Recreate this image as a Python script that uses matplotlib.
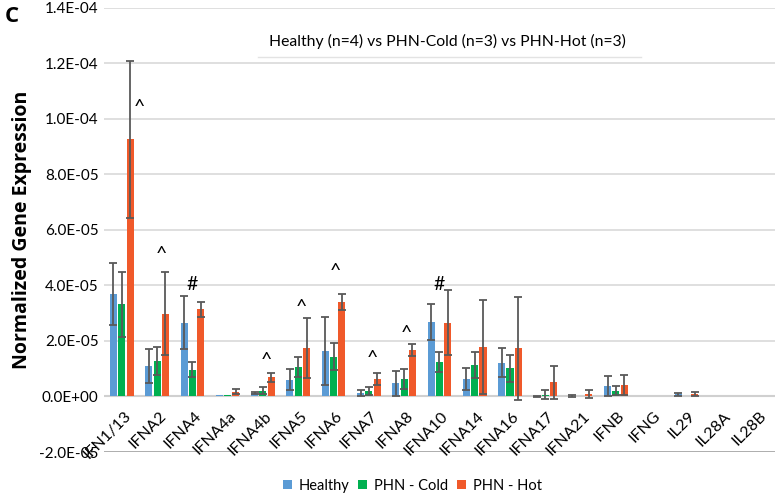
import numpy as np
import matplotlib.pyplot as plt

plt.rcParams['font.family'] = ['Lato', 'DejaVu Sans']

genes = ['IFN1/13', 'IFNA2', 'IFNA4', 'IFNA4a', 'IFNA4b', 'IFNA5', 'IFNA6', 'IFNA7',
         'IFNA8', 'IFNA10', 'IFNA14', 'IFNA16', 'IFNA17', 'IFNA21', 'IFNB', 'IFNG',
         'IL29', 'IL28A', 'IL28B']

# valores en unidades de 1e-5
healthy = [3.68, 1.10, 2.66, 0.06, 0.12, 0.61, 1.65, 0.12, 0.47, 2.69, 0.63, 1.22,
           0.01, 0.02, 0.38, 0.0, 0.08, 0.0, 0.0]
healthy_err = [1.12, 0.61, 0.96, 0.0, 0.03, 0.39, 1.23, 0.10, 0.46, 0.65, 0.40, 0.51,
               0.02, 0.05, 0.35, 0.0, 0.05, 0.0, 0.0]
cold = [3.32, 1.29, 0.96, 0.06, 0.21, 1.05, 1.44, 0.19, 0.63, 1.25, 1.14, 1.01,
        0.07, 0.0, 0.21, 0.0, 0.03, 0.0, 0.0]
cold_err = [1.17, 0.50, 0.27, 0.0, 0.12, 0.36, 0.50, 0.14, 0.37, 0.37, 0.48, 0.47,
            0.17, 0.0, 0.17, 0.0, 0.0, 0.0, 0.0]
hot = [9.26, 2.99, 3.15, 0.18, 0.69, 1.74, 3.40, 0.63, 1.68, 2.66, 1.79, 1.73,
       0.51, 0.10, 0.43, 0.0, 0.08, 0.0, 0.0]
hot_err = [2.84, 1.50, 0.27, 0.10, 0.16, 1.08, 0.30, 0.22, 0.21, 1.17, 1.69, 1.85,
           0.60, 0.14, 0.36, 0.0, 0.07, 0.0, 0.0]

# anotaciones de significancia
marks = ['^', '^', '#', '', '^', '^', '^', '^', '^', '#', '', '', '', '', '', '', '', '', '']
mark_y = [10.4, 5.1, 4.05, 0, 1.3, 3.2, 4.5, 1.36, 2.26, 4.05, 0, 0, 0, 0, 0, 0, 0, 0, 0]
mark_dx = [0.5, 0.13, 0.0, 0, 0.1, 0.1, 0.05, 0.1, 0.05, 0.0, 0, 0, 0, 0, 0, 0, 0, 0, 0]

scale = 1e-5
x = np.arange(len(genes))
w = 0.2
off = 0.235

fig = plt.figure(figsize=(7.77, 4.94), dpi=100)
ax = fig.add_axes([0.134, 0.085, 0.863, 0.899])

series = [(healthy, healthy_err, '#5B9BD5', 'Healthy', -off),
          (cold, cold_err, '#00B050', 'PHN - Cold', 0),
          (hot, hot_err, '#F0592A', 'PHN - Hot', off)]
for vals, errs, col, lab, dx in series:
    v = np.array(vals) * scale
    e = np.array(errs) * scale
    ax.bar(x + dx, v, w, color=col, label=lab, zorder=3)
    has = e > 0
    ax.errorbar(x[has] + dx, v[has], yerr=e[has], fmt='none', ecolor='#595959',
                elinewidth=1.3, capsize=3, capthick=1.3, zorder=4)

for i in range(len(genes)):
    if marks[i]:
        ax.text(x[i] + mark_dx[i], mark_y[i] * scale, marks[i], ha='center', va='center',
                fontsize=14, color='black', zorder=5)

yt = np.arange(-2e-5, 1.41e-4, 2e-5)
ax.set_ylim(-2e-5, 1.4e-4)
ax.set_xlim(-0.5, len(genes) - 0.5)
ax.set_yticks(yt)
ax.set_yticklabels(['{:.1E}'.format(t) for t in yt])
ax.tick_params(axis='y', length=0, labelsize=11, pad=4)
ax.tick_params(axis='x', length=0, labelbottom=False)
ax.grid(axis='y', color='#d9d9d9', linewidth=1.2, zorder=0)
ax.axhline(0, color='#d0d0d0', linewidth=1.5, zorder=2)
ax.axhline(-2e-5, color='#a6a6a6', linewidth=1.2, zorder=2)
for s in ax.spines.values():
    s.set_visible(False)

for i, g in enumerate(genes):
    ax.text(x[i] + 0.05, -0.45e-5, g, rotation=45, ha='right', va='top',
            rotation_mode='anchor', fontsize=11.5)

ax.set_ylabel('Normalized Gene Expression', fontsize=14, fontweight='bold', labelpad=5,
              family=['Open Sans', 'DejaVu Sans'])

ax.text(0.512, 0.925, 'Healthy (n=4) vs PHN-Cold (n=3) vs PHN-Hot (n=3)', transform=ax.transAxes,
        ha='center', va='center', fontsize=11.3,
        bbox=dict(facecolor='white', edgecolor='none', pad=6), zorder=6)
ax.plot([0.23, 0.80], [0.89, 0.89], transform=ax.transAxes, color='#e3e3e3',
        linewidth=1, zorder=7)

fig.text(0.006, 0.966, 'C', fontsize=16, fontweight='bold', va='center',
         family=['Open Sans', 'DejaVu Sans'])

fig.legend(loc='center', bbox_to_anchor=(0.531, 0.017), ncol=3, frameon=False,
           fontsize=10.5, handlelength=0.6, handleheight=0.6, handletextpad=0.5,
           columnspacing=0.6)

fig.savefig('out.png', dpi=100)
